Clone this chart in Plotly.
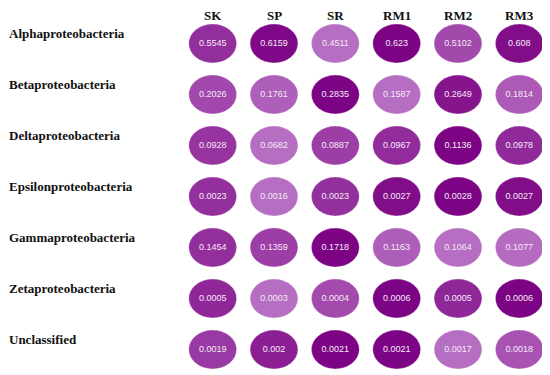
import plotly.graph_objects as go
import numpy as np

groups = ["Alphaproteobacteria", "Betaproteobacteria", "Deltaproteobacteria",
          "Epsilonproteobacteria", "Gammaproteobacteria", "Zetaproteobacteria",
          "Unclassified"]
samples = ["SK", "SP", "SR", "RM1", "RM2", "RM3"]

alpha = [0.5545, 0.6159, 0.4511, 0.623, 0.5102, 0.608]
beta = [0.2026, 0.1761, 0.2835, 0.1587, 0.2649, 0.1814]
delta = [0.0928, 0.0682, 0.0887, 0.0967, 0.1136, 0.0978]
epsilon = [0.0023, 0.0016, 0.0023, 0.0027, 0.0028, 0.0027]
gamma = [0.1454, 0.1359, 0.1718, 0.1163, 0.1064, 0.1077]
zeta = [0.0005, 0.0003, 0.0004, 0.0006, 0.0005, 0.0006]
unclassified = [0.0019, 0.002, 0.0021, 0.0021, 0.0017, 0.0018]
value_labels = [
    ["0.5545", "0.6159", "0.4511", "0.623", "0.5102", "0.608"],
    ["0.2026", "0.1761", "0.2835", "0.1587", "0.2649", "0.1814"],
    ["0.0928", "0.0682", "0.0887", "0.0967", "0.1136", "0.0978"],
    ["0.0023", "0.0016", "0.0023", "0.0027", "0.0028", "0.0027"],
    ["0.1454", "0.1359", "0.1718", "0.1163", "0.1064", "0.1077"],
    ["0.0005", "0.0003", "0.0004", "0.0006", "0.0005", "0.0006"],
    ["0.0019", "0.002", "0.0021", "0.0021", "0.0017", "0.0018"],
]
rows = [alpha, beta, delta, epsilon, gamma, zeta, unclassified]

light = np.array([190, 124, 202])
dark = np.array([124, 4, 132])

def color_for(v, lo, hi):
    t = 0.5 if hi == lo else (v - lo) / (hi - lo)
    t = 0.12 + 0.88 * t
    c = light + (dark - light) * t
    return "rgb(%d,%d,%d)" % tuple(int(round(x)) for x in c)

fig = go.Figure()
shapes = []
tx, ty, tt = [], [], []
for r, vals in enumerate(rows):
    lo, hi = min(vals), max(vals)
    for c, v in enumerate(vals):
        shapes.append(dict(type="circle", xref="x", yref="y",
                           x0=c - 0.39, x1=c + 0.39, y0=r - 0.38, y1=r + 0.38,
                           fillcolor=color_for(v, lo, hi),
                           line=dict(color="rgba(255,255,255,0.25)", width=1),
                           layer="below"))
        tx.append(c)
        ty.append(r)
        tt.append(value_labels[r][c])

fig.add_trace(go.Scatter(x=tx, y=ty, mode="text", text=tt,
                         textfont=dict(family="Liberation Sans, Arial", size=9,
                                       color="#f5eaf5"),
                         hoverinfo="skip", showlegend=False))

L, T, PW, PH = 174, 10, 368, 357
annotations = []
for r, g in enumerate(groups):
    annotations.append(dict(text="<b>%s</b>" % g, xref="paper", yref="y",
                            x=-L / PW, y=r - 0.2, xanchor="left",
                            yanchor="middle", showarrow=False, borderpad=0,
                            font=dict(family="Liberation Serif", size=13,
                                      color="#111111")))
for c, s in enumerate(samples):
    annotations.append(dict(text="<b>%s</b>" % s, xref="x", yref="paper",
                            x=c, y=1 + 2.5 / PH, xanchor="center",
                            yanchor="middle", showarrow=False, borderpad=0,
                            font=dict(family="Liberation Serif", size=13,
                                      color="#111111")))

fig.update_layout(
    width=542, height=367,
    margin=dict(l=L, r=0, t=T, b=0),
    paper_bgcolor="white", plot_bgcolor="white",
    shapes=shapes, annotations=annotations,
    xaxis=dict(range=[-0.5, 5.5], visible=False, fixedrange=True),
    yaxis=dict(range=[6.5, -0.5], visible=False, fixedrange=True),
)

fig.write_html("out.html")
